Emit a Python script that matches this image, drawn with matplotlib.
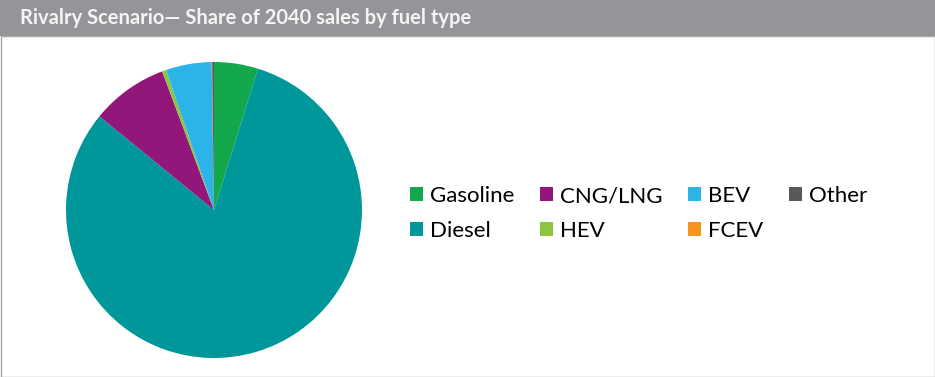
import matplotlib.pyplot as plt
from matplotlib.patches import Rectangle, Patch

plt.rcParams['font.family'] = ['Lato', 'DejaVu Sans']

fuels = ['Gasoline', 'Diesel', 'CNG/LNG', 'HEV', 'BEV', 'FCEV', 'Other']
shares = [4.8, 81.1, 8.4, 0.45, 5.0, 0.05, 0.2]
colors = ['#12A84B', '#00979A', '#93177B', '#8CC63F', '#2CB4E8', '#F7941D', '#58595B']
title = 'Rivalry Scenario\u2014 Share of 2040 sales by fuel type'

fig = plt.figure(figsize=(9.35, 3.77), dpi=100)

# title bar and frame
fig.patches.append(Rectangle((0, 1 - 36 / 377), 1, 36 / 377, transform=fig.transFigure,
                             facecolor='#939598', edgecolor='none'))
fig.patches.append(Rectangle((0.5 / 935, 0.5 / 377), 1 - 1 / 935, 1 - 36 / 377 - 0.5 / 377,
                             transform=fig.transFigure, facecolor='none',
                             edgecolor='#A6A6A6', linewidth=1))
fig.text(20 / 935, 1 - 18 / 377, title, color='#F4F4F4', fontsize=14.5,
         fontweight='bold', va='center', ha='left')

# pie: center (214, 210), radius 148 px
r = 148
ax = fig.add_axes([(214 - r) / 935, (377 - 210 - r) / 377, 2 * r / 935, 2 * r / 377])
ax.pie(shares, colors=colors, startangle=90, counterclock=False, radius=1,
       wedgeprops=dict(linewidth=0))
ax.set_xlim(-1, 1)
ax.set_ylim(-1, 1)
ax.set_aspect('equal')
ax.axis('off')

handles = [Patch(facecolor=c, edgecolor='none') for c in colors]
fig.legend(handles, fuels, ncol=4, loc='upper left',
           bbox_to_anchor=(410 / 935, 1 - 186 / 377), frameon=False,
           fontsize=16, handlelength=0.6, handleheight=0.6, handletextpad=0.3,
           columnspacing=1.15, labelspacing=0.66, borderaxespad=0, borderpad=0)

fig.savefig('out.png', dpi=100)
